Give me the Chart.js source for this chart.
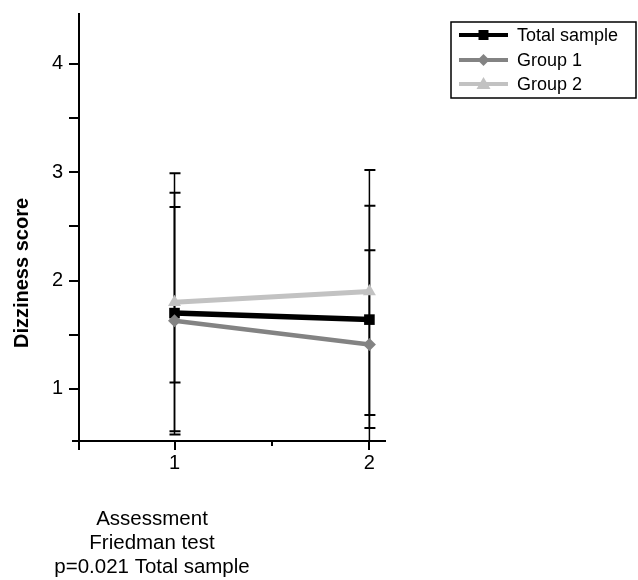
<!DOCTYPE html>
<html lang="en">
<head>
  <meta charset="UTF-8" />
  <title>Dizziness score</title>
  <script src="https://cdn.jsdelivr.net/npm/chart.js"></script>
  <style>
    body { margin: 0; background: #ffffff; }
  </style>
</head>
<body>
  <canvas id="chart" width="638" height="580"></canvas>

  <script>
    // data
    const assessments = [1, 2];
    const totalMean = [1.70, 1.64];
    const group1Mean = [1.63, 1.41];
    const group2Mean = [1.80, 1.90];
    const totalLow = [0.61, 0.64];
    const totalHigh = [2.81, 2.69];
    const group1Low = [0.58, 0.45];
    const group1High = [2.68, 2.28];
    const group2Low = [1.06, 0.76];
    const group2High = [2.99, 3.02];
    const yTicks = [1, 1.5, 2, 2.5, 3, 3.5, 4];
    const xTicks = [0.51, 1, 1.5, 2];
    const seriesNames = ['Total sample', 'Group 1', 'Group 2'];
    const xTitleLines = ['Assessment', 'Friedman test', 'p=0.021 Total sample'];
    const yTitle = 'Dizziness score';

    const FONT = "'Liberation Sans', Arial, sans-serif";
    const colors = ['#000000', '#838383', '#c2c2c2'];

    function pts(vals) {
      return assessments.map((a, i) => ({ x: a, y: vals[i] }));
    }

    const errorBars = {
      id: 'errorBars',
      beforeDatasetsDraw(chart) {
        const ctx = chart.ctx;
        const xs = chart.scales.x, ys = chart.scales.y;
        const area = chart.chartArea;
        ctx.save();
        ctx.beginPath();
        ctx.rect(area.left - 10, area.top - 10, area.right - area.left + 20, area.bottom - area.top + 10);
        ctx.clip();
        ctx.strokeStyle = '#000';
        chart.data.datasets.forEach(ds => {
          assessments.forEach((a, i) => {
            const x = xs.getPixelForValue(a);
            const yl = ys.getPixelForValue(ds.errLow[i]);
            const yh = ys.getPixelForValue(ds.errHigh[i]);
            ctx.lineWidth = 1.5;
            ctx.beginPath();
            ctx.moveTo(x, yl);
            ctx.lineTo(x, yh);
            ctx.stroke();
            ctx.lineWidth = 2;
            ctx.beginPath();
            ctx.moveTo(x - 5, yl); ctx.lineTo(x + 6, yl);
            ctx.moveTo(x - 5, yh); ctx.lineTo(x + 6, yh);
            ctx.stroke();
          });
        });
        ctx.restore();
      }
    };

    function marker(ctx, style, x, y, color) {
      ctx.fillStyle = color;
      ctx.beginPath();
      if (style === 'rect') {
        ctx.rect(x - 5, y - 5, 10, 10);
      } else if (style === 'rectRot') {
        ctx.moveTo(x, y - 6); ctx.lineTo(x + 6, y); ctx.lineTo(x, y + 6); ctx.lineTo(x - 6, y);
      } else {
        ctx.moveTo(x, y - 7); ctx.lineTo(x + 7, y + 5); ctx.lineTo(x - 7, y + 5);
      }
      ctx.closePath();
      ctx.fill();
    }

    const decorations = {
      id: 'decorations',
      afterDraw(chart) {
        const ctx = chart.ctx;
        const area = chart.chartArea;
        const xs = chart.scales.x;
        ctx.save();

        // x axis runs a little past the y axis, short minor tick at 1.5
        ctx.strokeStyle = '#000';
        ctx.lineWidth = 2;
        ctx.beginPath();
        ctx.moveTo(72, area.bottom);
        ctx.lineTo(area.left, area.bottom);
        const mx = Math.round(xs.getPixelForValue(1.5));
        ctx.moveTo(mx, area.bottom);
        ctx.lineTo(mx, area.bottom + 5);
        ctx.stroke();

        // y title
        ctx.fillStyle = '#000';
        ctx.font = 'bold 20px ' + FONT;
        ctx.textAlign = 'center';
        ctx.textBaseline = 'middle';
        ctx.translate(22, 273);
        ctx.rotate(-Math.PI / 2);
        ctx.fillText(yTitle, 0, 0);
        ctx.setTransform(1, 0, 0, 1, 0, 0);

        // x title
        ctx.font = '20.5px ' + FONT;
        ctx.textBaseline = 'alphabetic';
        xTitleLines.forEach((t, i) => ctx.fillText(t, 152, 525 + i * 24));

        // legend
        ctx.lineWidth = 1.5;
        ctx.strokeRect(451, 22, 185, 76);
        const styles = ['rect', 'rectRot', 'triangle'];
        const rows = [35, 60, 84];
        ctx.font = '18px ' + FONT;
        ctx.textAlign = 'left';
        ctx.textBaseline = 'middle';
        seriesNames.forEach((name, i) => {
          ctx.strokeStyle = colors[i];
          ctx.lineWidth = 4;
          ctx.beginPath();
          ctx.moveTo(459, rows[i]);
          ctx.lineTo(508, rows[i]);
          ctx.stroke();
          marker(ctx, styles[i], 483.5, rows[i], colors[i]);
          ctx.fillStyle = '#000';
          ctx.fillText(name, 517, rows[i] + 1);
        });
        ctx.restore();
      }
    };

    function mkSet(label, vals, low, high, i, style, radius, width) {
      return {
        label: label,
        data: pts(vals),
        errLow: low,
        errHigh: high,
        borderColor: colors[i],
        backgroundColor: colors[i],
        borderWidth: width,
        pointStyle: style,
        pointRadius: radius,
        pointBorderWidth: 0,
        tension: 0,
        order: 3 - i
      };
    }

    function noPad(s) {
      s.paddingTop = 0;
      s.paddingBottom = 0;
      s.paddingLeft = 0;
      s.paddingRight = 0;
    }

    new Chart(document.getElementById('chart').getContext('2d'), {
      type: 'line',
      data: {
        datasets: [
          mkSet(seriesNames[2], group2Mean, group2Low, group2High, 2, 'triangle', 7.5, 5),
          mkSet(seriesNames[1], group1Mean, group1Low, group1High, 1, 'rectRot', 6.5, 4.5),
          mkSet(seriesNames[0], totalMean, totalLow, totalHigh, 0, 'rect', 7.5, 5.5)
        ]
      },
      options: {
        responsive: false,
        animation: false,
        layout: { padding: { top: 14, right: 253, left: 0, bottom: 0 } },
        plugins: { legend: { display: false }, tooltip: { enabled: false } },
        scales: {
          x: {
            type: 'linear',
            min: 0.51,
            max: 2.08,
            afterBuildTicks: s => { s.ticks = xTicks.map(v => ({ value: v })); },
            afterFit: s => { s.height = 139; noPad(s); },
            grid: {
              drawOnChartArea: false,
              tickLength: 9,
              lineWidth: 2,
              color: c => (c.tick && c.tick.value === 1.5 ? 'rgba(0,0,0,0)' : '#000')
            },
            border: { color: '#000', width: 2 },
            ticks: {
              padding: 1,
              color: '#000',
              font: { family: FONT, size: 20 },
              callback: v => (Number.isInteger(v) ? String(v) : '')
            }
          },
          y: {
            min: 0.52,
            max: 4.46,
            afterBuildTicks: s => { s.ticks = yTicks.map(v => ({ value: v })); },
            afterFit: s => { s.width = 79; noPad(s); },
            grid: { drawOnChartArea: false, tickLength: 10, color: '#000', lineWidth: 2 },
            border: { color: '#000', width: 2 },
            ticks: {
              padding: 6,
              color: '#000',
              font: { family: FONT, size: 20 },
              callback: v => (Number.isInteger(v) ? String(v) : '')
            }
          }
        }
      },
      plugins: [errorBars, decorations]
    });
  </script>
</body>
</html>
